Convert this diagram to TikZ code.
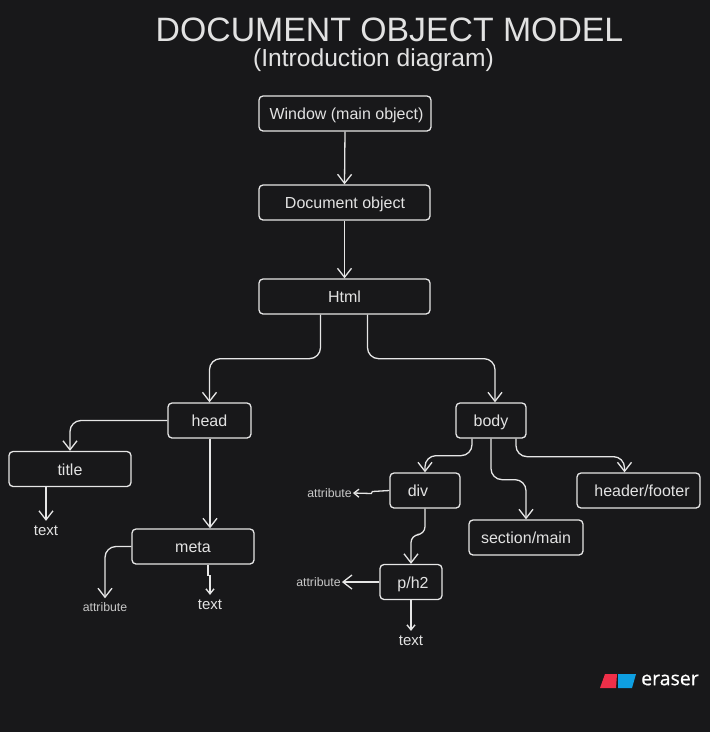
\documentclass[tikz,border=0pt]{standalone}
\usepackage{fontspec}
\setmainfont{Liberation Sans}
\newfontfamily\logofont[FakeBold=0.5]{Open Sans}
\usetikzlibrary{arrows.meta}
\definecolor{bgdark}{HTML}{18181A}
\definecolor{inkline}{HTML}{E6E6E6}
\definecolor{inktext}{HTML}{E2E2E2}
\definecolor{logored}{HTML}{EF2F49}
\definecolor{logoblue}{HTML}{0E9FE2}
\tikzset{
	box/.style={draw=inkline,line width=1.3pt,rounded corners=4pt,text=inktext,font=\fontsize{16}{18}\selectfont,inner sep=0pt,minimum height=35pt,text height=13.5pt,text depth=1.5pt},
	link/.style={draw=inkline,line width=1.3pt,rounded corners=11pt,-{Straight Barb[length=9pt,width=14pt,line width=1.3pt]}},
	smalllink/.style={link,-{Straight Barb[length=5pt,width=8pt,line width=1.3pt]}},
	leaf/.style={text=inktext,font=\fontsize{15}{17}\selectfont,inner sep=5pt},
	attr/.style={text=inktext!88!black,font=\fontsize{12.3}{14}\selectfont,inner xsep=1pt,inner ysep=4pt},
}
\begin{document}
\begin{tikzpicture}[x=1pt,y=-1pt]
	\fill[bgdark] (0,0) rectangle (710,732);
	\node[text=inktext,font=\fontsize{33.8}{36}\selectfont,inner sep=0pt,text height=25pt,text depth=0pt] (heading) at (389.5,29) {DOCUMENT OBJECT MODEL};
	\node[text=inktext,font=\fontsize{24.6}{28}\selectfont,inner sep=0pt,text height=18pt,text depth=5pt] (subheading) at (373.5,59.5) {(Introduction diagram)};

	\node[box,minimum width=172pt] (window) at (345,113.5) {\hspace*{3pt}Window (main object)};
	\node[box,minimum width=171pt] (document) at (344.5,202.5) {\hspace*{1pt}Document object};
	\node[box,minimum width=171pt] (html) at (344.5,296.5) {Html};
	\node[box,minimum width=83pt] (head) at (209.5,420.5) {head};
	\node[box,minimum width=70pt] (body) at (491,420.5) {body};
	\node[box,minimum width=122pt] (title) at (70,469) {title};
	\node[box,minimum width=122pt] (meta) at (193,546.5) {meta};
	\node[box,minimum width=70pt] (div) at (425,490.5) {div\hspace*{14pt}};
	\node[box,minimum width=123pt] (header) at (638.5,490.5) {\hspace*{7pt}header/footer};
	\node[box,minimum width=114pt] (section) at (526,537.5) {section/main};
	\node[box,minimum width=62pt] (para) at (411,582) {\hspace*{4pt}p/h2};

	\node[leaf] (titletext) at (46,531) {text};
	\node[leaf] (metatext) at (210,605) {text};
	\node[leaf] (paratext) at (411,641) {text};
	\node[attr] (metaattr) at (105,607) {attribute};
	\node[attr] (divattr) at (329.5,493) {attribute};
	\node[attr] (paraattr) at (318.5,582) {attribute};

	\draw[link] (window.south) -- (document.north);
	\draw[link] (document.south) -- (html.north);
	\draw[link] ([xshift=-24pt]html.south) -- ++(0,44) -| (head.north);
	\draw[link] ([xshift=23pt]html.south) -- ++(0,44) -| ([xshift=4pt]body.north);
	\draw[link] (head.west) -| (title.north);
	\draw[link] ([xshift=17pt]meta.north |- head.south) -- ([xshift=17pt]meta.north);
	\draw[link] ([xshift=-24pt]title.south) -- (titletext.north);
	\draw[link] (meta.west) -| (metaattr.north);
	\draw[smalllink,rounded corners=0pt] ([xshift=15pt]meta.south) -- ++(0,11) -- ++(2,0) -- (metatext.north);
	\draw[link] ([xshift=-19pt]body.south) -- ++(0,17) -| (div.north);
	\draw[link] (body.south) -- ++(0,41) -| (section.north);
	\draw[link] ([xshift=25pt]body.south) -- ++(0,18) -| ([xshift=-14pt]header.north);
	\draw[smalllink,rounded corners=0pt] (div.west) -- ++(-17,1) -- ++(-1,2) -- (divattr.east);
	\draw[link,rounded corners=8pt] (div.south) -- ++(0,26) -- ++(-14,0) -- (para.north);
	\draw[link] (para.west) -- (paraattr.east);
	\draw[smalllink] (para.south) -- (paratext.north);

	\fill[logored] (605,674) -- (617,674) -- (616,688) -- (600,688) -- cycle;
	\fill[logoblue] (618,674) -- (636,674) -- (632,688) -- (618,688) -- cycle;
	\node[text=white,font=\logofont\fontsize{19.5}{21}\selectfont,inner sep=0pt] (logotext) at (670,680) {eraser};
\end{tikzpicture}
\end{document}
